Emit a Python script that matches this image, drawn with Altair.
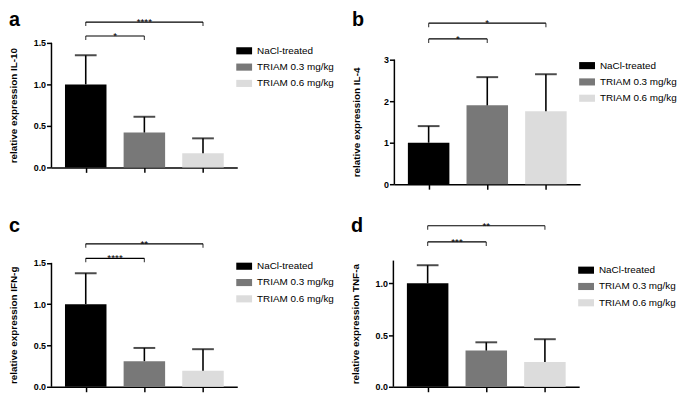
import altair as alt
import pandas as pd

FONT = "Liberation Sans"

groups = ["NaCl-treated", "TRIAM 0.3 mg/kg", "TRIAM 0.6 mg/kg"]
colors = ["#000000", "#787878", "#dcdcdc"]

panel_letters = ["a", "b", "c", "d"]
markers = ["IL-10", "IL-4", "IFN-g", "TNF-a"]

# mean relative expression and mean + SD (top of error bar)
means_a = [1.0, 0.42, 0.17]
tops_a = [1.35, 0.61, 0.35]
means_b = [1.0, 1.90, 1.76]
tops_b = [1.40, 2.58, 2.65]
means_c = [1.0, 0.31, 0.195]
tops_c = [1.375, 0.47, 0.455]
means_d = [1.0, 0.35, 0.24]
tops_d = [1.175, 0.43, 0.46]

tick_values = [[0, 0.5, 1.0, 1.5], [0, 1, 2, 3], [0, 0.5, 1.0, 1.5], [0, 0.5, 1.0]]
tick_formats = [".1f", "d", ".1f", ".1f"]
axis_tops = [1.5, 3, 1.5, 1.22]
domain_max = [1.821, 4.048, 2.033, 1.624]
plot_heights = [153, 170, 170, 170]

# significance brackets: comparison pairs, heights, labels
bracket_pairs = [(0, 1), (0, 2)]
bracket_levels = [[1.583, 1.75], [3.5, 3.88], [1.555, 1.73], [1.40, 1.557]]
bracket_labels = [["*", "****"], ["*", "*"], ["****", "**"], ["***", "**"]]

legend_y = [27, 42, 40, 44]
title_offsets = [-14, -14, -17, -17]

all_means = [means_a, means_b, means_c, means_d]
all_tops = [tops_a, tops_b, tops_c, tops_d]


def panel(i):
    df = pd.DataFrame({"group": groups, "idx": list(range(len(groups))),
                       "mean": all_means[i], "top": all_tops[i]})
    H = plot_heights[i]
    D = domain_max[i]
    xs = alt.Scale(domain=[-0.5, len(groups) - 0.5], nice=False, zero=False)
    ys = alt.Scale(domain=[0, D], nice=False, zero=True)
    x_axis = alt.Axis(values=list(range(len(groups))), labels=False, title=None,
                      grid=False, tickSize=5)
    y_axis = alt.Axis(values=tick_values[i], format=tick_formats[i],
                      grid=False, domain=False, titleAngle=270,
                      titleBaseline="middle", titleAlign="center", titleX=-38,
                      titleY=H * (1 - axis_tops[i] / (2 * D)))

    bars = alt.Chart(df).mark_bar(size=42).encode(
        x=alt.X("idx:Q", scale=xs, axis=x_axis),
        y=alt.Y("mean:Q", scale=ys, axis=y_axis,
                title=f"relative expression {markers[i]}"),
        color=alt.Color("group:N", scale=alt.Scale(domain=groups, range=colors),
                        legend=alt.Legend(title=None, orient="none", legendX=187,
                                          legendY=legend_y[i],
                                          symbolType="M-1,-0.45H1V0.45H-1Z",
                                          symbolSize=256, symbolStrokeWidth=0,
                                          labelFontSize=10, labelFont=FONT,
                                          labelColor="black", labelOffset=5,
                                          rowPadding=3.5, padding=0)),
    )
    stems = alt.Chart(df).mark_rule(strokeWidth=1.6, color="black").encode(
        x=alt.X("idx:Q", title=None), y="mean:Q", y2="top:Q")
    caps = alt.Chart(df).mark_tick(orient="horizontal", size=22, thickness=2,
                                   color="black").encode(
        x=alt.X("idx:Q", title=None), y="top:Q")

    ydom = pd.DataFrame({"lo": [0], "hi": [axis_tops[i]]})
    yline = alt.Chart(ydom).mark_rule(strokeWidth=1.5, color="black").encode(
        x=alt.value(0), y="lo:Q", y2="hi:Q")

    br = pd.DataFrame({
        "x1": [p[0] for p in bracket_pairs],
        "x2": [p[1] for p in bracket_pairs],
        "level": bracket_levels[i],
        "label": bracket_labels[i],
    })
    br["mid"] = (br["x1"] + br["x2"]) / 2
    ends = pd.DataFrame({
        "xe": list(br["x1"]) + list(br["x2"]),
        "level": list(br["level"]) * 2,
    })
    blines = alt.Chart(br).mark_rule(strokeWidth=1.2, color="black").encode(
        x=alt.X("x1:Q", title=None), x2="x2:Q", y="level:Q")
    bends = alt.Chart(ends).mark_tick(orient="vertical", size=4, thickness=1.2,
                                      yOffset=2, color="black").encode(
        x=alt.X("xe:Q", title=None), y="level:Q")
    stars = alt.Chart(br).mark_text(fontSize=10, baseline="alphabetic", dy=3,
                                    font=FONT, fill="black").encode(
        x=alt.X("mid:Q", title=None), y="level:Q", text="label:N")

    return alt.layer(bars, stems, caps, yline, blines, bends, stars).properties(
        width=188, height=H,
        title=alt.TitleParams(text=panel_letters[i], anchor="start", fontSize=20,
                              fontWeight="bold", font=FONT, color="black",
                              offset=title_offsets[i], frame="bounds"),
    )


row1 = alt.hconcat(panel(0), panel(1), spacing=17).resolve_scale(
    color="independent").resolve_legend(color="independent")
row2 = alt.hconcat(panel(2), panel(3), spacing=17).resolve_scale(
    color="independent").resolve_legend(color="independent")

chart = alt.vconcat(row1, row2, spacing=26).resolve_scale(
    color="independent").resolve_legend(color="independent").properties(
    padding=0
).configure_view(stroke=None).configure_axis(
    labelFont=FONT, labelFontWeight="bold", labelFontSize=9, labelColor="black",
    titleFont=FONT, titleFontWeight="bold", titleFontSize=10, titleColor="black",
    labelPadding=1, tickSize=5, tickWidth=1.5, tickColor="black",
    domainColor="black", domainWidth=1.5, grid=False,
)

chart.save("out.html", embed_options={"renderer": "svg", "actions": False})
